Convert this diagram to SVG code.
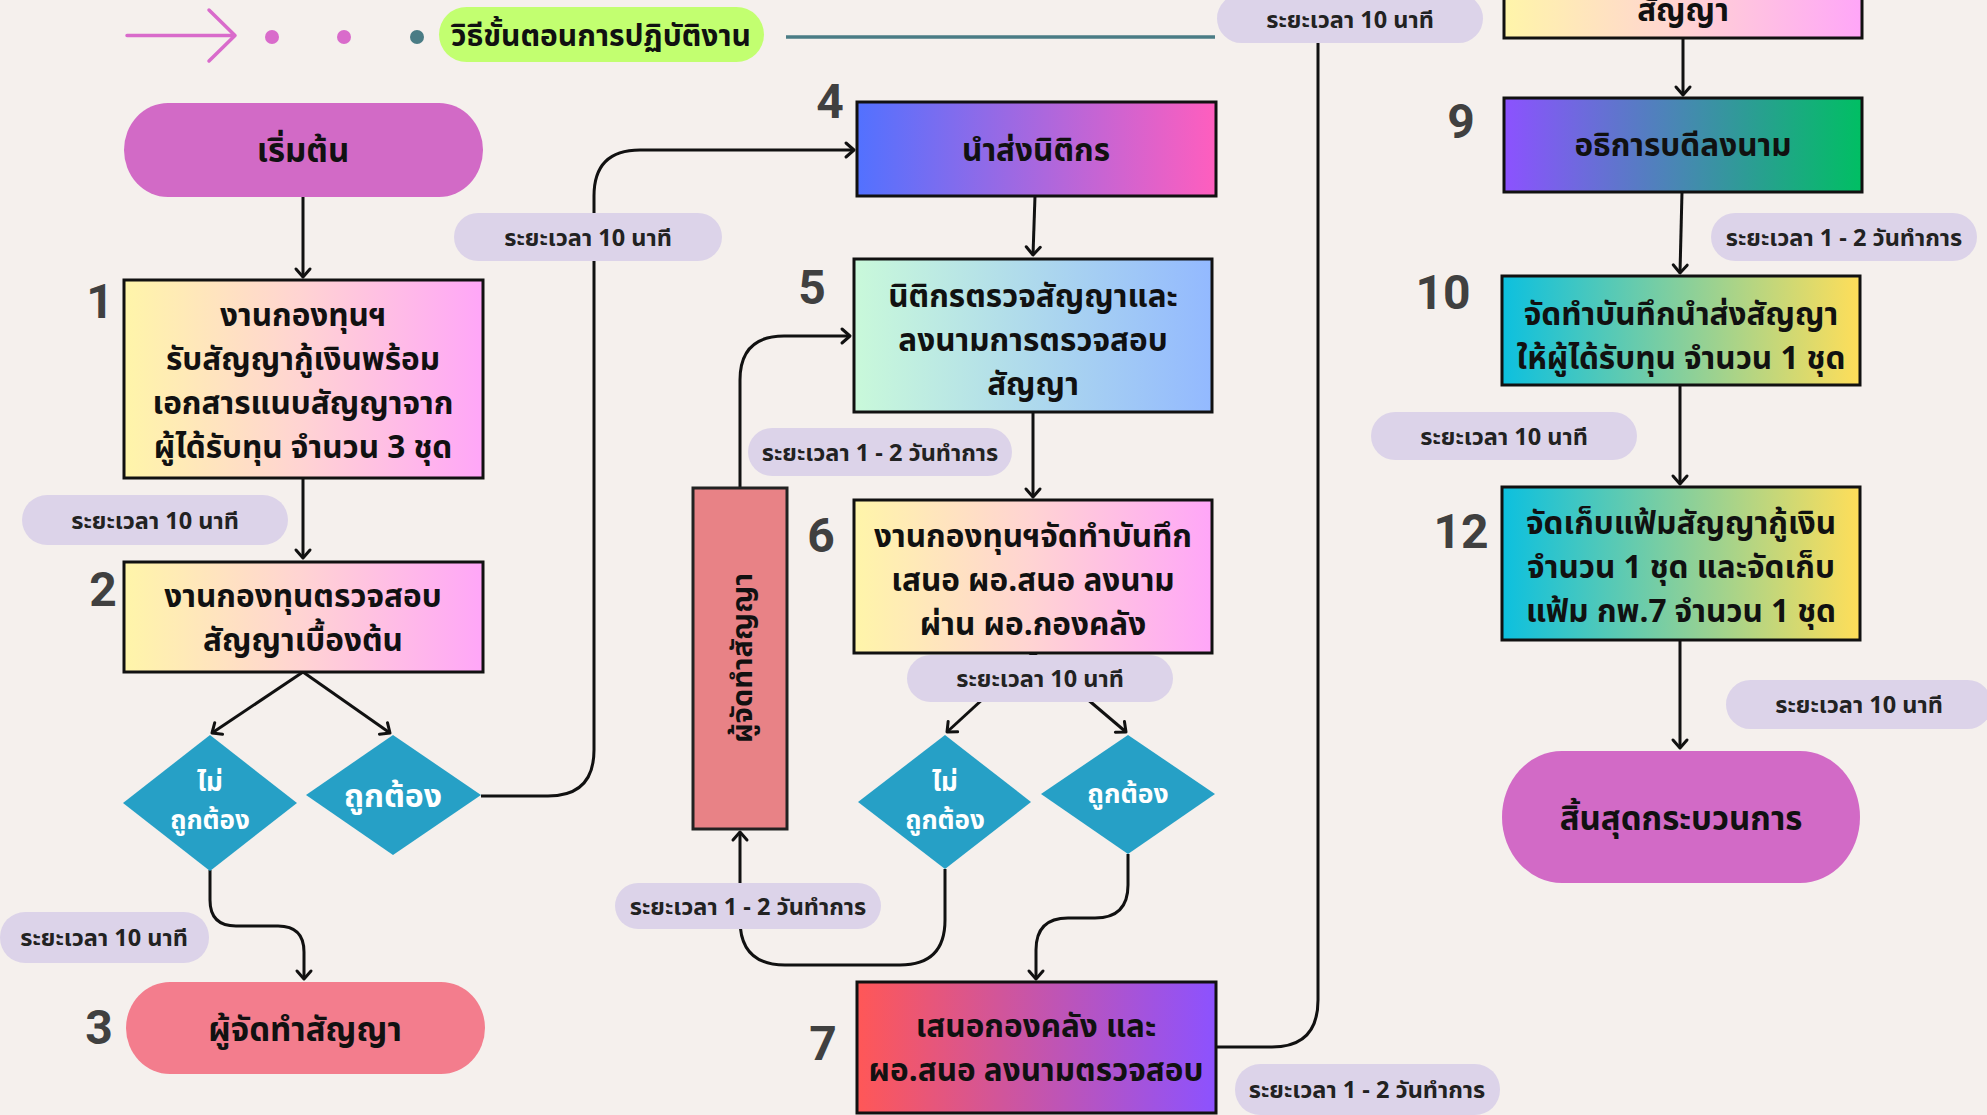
<svg xmlns="http://www.w3.org/2000/svg" width="1987" height="1115" viewBox="0 0 1987 1115">
<defs>
<linearGradient id="gYP" x1="0" y1="0" x2="1" y2="0"><stop offset="0" stop-color="#FFF5A9"/><stop offset="0.5" stop-color="#FFD3D3"/><stop offset="1" stop-color="#FFA6F8"/></linearGradient>
<linearGradient id="gBP" x1="0" y1="0" x2="1" y2="0"><stop offset="0" stop-color="#5271FF"/><stop offset="1" stop-color="#FF5EBE"/></linearGradient>
<linearGradient id="gMB" x1="0" y1="0" x2="1" y2="0"><stop offset="0" stop-color="#C9F9DA"/><stop offset="1" stop-color="#93B9FF"/></linearGradient>
<linearGradient id="gRP" x1="0" y1="0" x2="1" y2="0"><stop offset="0" stop-color="#FF5757"/><stop offset="1" stop-color="#8C52FF"/></linearGradient>
<linearGradient id="gPG" x1="0" y1="0" x2="1" y2="0"><stop offset="0" stop-color="#8C52FF"/><stop offset="1" stop-color="#00BF63"/></linearGradient>
<linearGradient id="gCY" x1="0" y1="0" x2="1" y2="0"><stop offset="0" stop-color="#0CC0DF"/><stop offset="1" stop-color="#FFDE59"/></linearGradient>
<marker id="arr" markerUnits="userSpaceOnUse" markerWidth="20" markerHeight="20" refX="12" refY="10" orient="auto" viewBox="0 0 20 20">
<path d="M4,3 L12,10 L4,17" fill="none" stroke="#111" stroke-width="3" stroke-linecap="round" stroke-linejoin="round"/>
</marker>
<style>
.bx{stroke:#111;stroke-width:3}
.t{font-family:"Noto Sans Thai","Noto Sans","DejaVu Sans",sans-serif;font-weight:700;fill:#111;text-anchor:middle}
.tw{font-family:"Noto Sans Thai","Noto Sans","DejaVu Sans",sans-serif;font-weight:700;fill:#fff;text-anchor:middle}
.lbl{font-family:"Noto Sans Thai","Noto Sans","DejaVu Sans",sans-serif;font-weight:700;fill:#222;text-anchor:middle;font-size:23.5px}
.pill{fill:#DCD3E9}
.num{font-family:Roboto,"Liberation Sans",sans-serif;font-weight:700;fill:#404040;text-anchor:middle;font-size:48px}
.dm{fill:#26A0C6}
.c{fill:none;stroke:#111;stroke-width:3}
.b{font-size:31.5px}
</style>
</defs>
<rect width="1987" height="1115" fill="#F5F0ED"/>

<g id="header">
<path d="M127,35.5 H235 M209,10 L235,35.5 L209,61" fill="none" stroke="#D96BCB" stroke-width="3.5" stroke-linecap="round" stroke-linejoin="round"/>
<circle cx="272" cy="37" r="7" fill="#D96BCB"/>
<circle cx="344" cy="37" r="7" fill="#D96BCB"/>
<circle cx="417" cy="37" r="7" fill="#4A7C85"/>
<rect x="439" y="7" width="325" height="55" rx="27.5" fill="#C2FF70"/>
<text class="t" x="601" y="46" font-size="30">วิธีขั้นตอนการปฏิบัติงาน</text>
<path d="M786,37 H1215" stroke="#4A7C85" stroke-width="3.5"/>
</g>

<g id="connectors">
<path class="c" d="M303,197 V277" marker-end="url(#arr)"/>
<path class="c" d="M303,478 V558" marker-end="url(#arr)"/>
<path class="c" d="M303,672 L212,733" marker-end="url(#arr)"/>
<path class="c" d="M303,672 L390,733" marker-end="url(#arr)"/>
<path class="c" d="M481,796 H548 Q594,796 594,750 V196 Q594,150 640,150 H854" marker-end="url(#arr)"/>
<path class="c" d="M210,870 V900 Q210,926 236,926 H278 Q304,926 304,952 V979" marker-end="url(#arr)"/>
<path class="c" d="M1035,196 L1033,255" marker-end="url(#arr)"/>
<path class="c" d="M1033,412 V497" marker-end="url(#arr)"/>
<path class="c" d="M1033,653 L947,732" marker-end="url(#arr)"/>
<path class="c" d="M1033,653 L1126,732" marker-end="url(#arr)"/>
<path class="c" d="M945,869 V920 Q945,965 900,965 H785 Q740,965 740,920 V832" marker-end="url(#arr)"/>
<path class="c" d="M740,488 V380 Q740,336 784,336 H850" marker-end="url(#arr)"/>
<path class="c" d="M1128,854 V885 Q1128,918 1095,918 H1068 Q1036,918 1036,950 V979" marker-end="url(#arr)"/>
<path class="c" d="M1216,1047 H1272 Q1318,1047 1318,1000 V30"/>
<path class="c" d="M1683,38 V95" marker-end="url(#arr)"/>
<path class="c" d="M1682,192 L1680,273" marker-end="url(#arr)"/>
<path class="c" d="M1680,385 V484" marker-end="url(#arr)"/>
<path class="c" d="M1680,640 V748" marker-end="url(#arr)"/>
</g>

<g id="start">
<rect x="124" y="103" width="359" height="94" rx="44" ry="47" fill="#D26AC6"/>
<text class="t" x="303" y="162" font-size="33">เริ่มต้น</text>
</g>

<g id="step1">
<rect class="bx" x="124" y="280" width="359" height="198" fill="url(#gYP)"/>
<text class="t b" x="303" y="326">งานกองทุนฯ</text>
<text class="t b" x="303" y="370">รับสัญญากู้เงินพร้อม</text>
<text class="t b" x="303" y="414">เอกสารแนบสัญญาจาก</text>
<text class="t b" x="303" y="458">ผู้ได้รับทุน จำนวน 3 ชุด</text>
<text class="num" x="100" y="318">1</text>
</g>

<g id="step2">
<rect class="bx" x="124" y="562" width="359" height="110" fill="url(#gYP)"/>
<text class="t b" x="303" y="607">งานกองทุนตรวจสอบ</text>
<text class="t b" x="303" y="651">สัญญาเบื้องต้น</text>
<text class="num" x="103" y="606">2</text>
</g>

<g id="dec1no">
<polygon class="dm" points="210,735 297,803 210,871 123,803"/>
<text class="tw" font-size="26" x="210" y="791">ไม่</text>
<text class="tw" font-size="26" x="210" y="829">ถูกต้อง</text>
</g>

<g id="dec1yes">
<polygon class="dm" points="393,735 481,795 393,855 306,795"/>
<text class="tw" font-size="32" x="393" y="807">ถูกต้อง</text>
</g>

<g id="step3">
<rect x="126" y="982" width="359" height="92" rx="44" ry="46" fill="#F37D8D"/>
<text class="t" font-size="33" x="305" y="1041">ผู้จัดทำสัญญา</text>
<text class="num" x="99" y="1044">3</text>
</g>

<g id="step4">
<rect class="bx" x="857" y="102" width="359" height="94" fill="url(#gBP)"/>
<text class="t b" x="1036" y="161">นำส่งนิติกร</text>
<text class="num" x="830" y="118">4</text>
</g>

<g id="step5">
<rect class="bx" x="854" y="259" width="358" height="153" fill="url(#gMB)"/>
<text class="t b" x="1033" y="307">นิติกรตรวจสัญญาและ</text>
<text class="t b" x="1033" y="351">ลงนามการตรวจสอบ</text>
<text class="t b" x="1033" y="395">สัญญา</text>
<text class="num" x="812" y="304">5</text>
</g>

<g id="maker">
<rect x="693" y="488" width="94" height="341" fill="#E88286" stroke="#222" stroke-width="3"/>
<text class="t" font-size="29" x="742" y="668" transform="rotate(-90 742 658)">ผู้จัดทำสัญญา</text>
</g>

<g id="step6">
<rect class="bx" x="854" y="500" width="358" height="153" fill="url(#gYP)"/>
<text class="t b" x="1033" y="547">งานกองทุนฯจัดทำบันทึก</text>
<text class="t b" x="1033" y="591">เสนอ ผอ.สนอ ลงนาม</text>
<text class="t b" x="1033" y="635">ผ่าน ผอ.กองคลัง</text>
<text class="num" x="821" y="552">6</text>
</g>

<g id="dec2no">
<polygon class="dm" points="945,735 1031,802 945,869 858,802"/>
<text class="tw" font-size="26" x="945" y="791">ไม่</text>
<text class="tw" font-size="26" x="945" y="829">ถูกต้อง</text>
</g>

<g id="dec2yes">
<polygon class="dm" points="1128,735 1215,794 1128,854 1041,794"/>
<text class="tw" font-size="26.5" x="1128" y="803">ถูกต้อง</text>
</g>

<g id="step7">
<rect class="bx" x="857" y="982" width="359" height="131" fill="url(#gRP)"/>
<text class="t b" x="1036" y="1037">เสนอกองคลัง และ</text>
<text class="t b" x="1036" y="1081">ผอ.สนอ ลงนามตรวจสอบ</text>
<text class="num" x="823" y="1060">7</text>
</g>

<g id="step8">
<rect class="bx" x="1504" y="-100" width="358" height="138" fill="url(#gYP)"/>
<text class="t b" x="1683" y="21">สัญญา</text>
</g>

<g id="step9">
<rect class="bx" x="1504" y="98" width="358" height="94" fill="url(#gPG)"/>
<text class="t b" x="1683" y="156">อธิการบดีลงนาม</text>
<text class="num" x="1461" y="138">9</text>
</g>

<g id="step10">
<rect class="bx" x="1502" y="276" width="358" height="109" fill="url(#gCY)"/>
<text class="t b" x="1681" y="325">จัดทำบันทึกนำส่งสัญญา</text>
<text class="t b" x="1681" y="369">ให้ผู้ได้รับทุน จำนวน 1 ชุด</text>
<text class="num" x="1443" y="309">10</text>
</g>

<g id="step12">
<rect class="bx" x="1502" y="487" width="358" height="153" fill="url(#gCY)"/>
<text class="t b" x="1681" y="534">จัดเก็บแฟ้มสัญญากู้เงิน</text>
<text class="t b" x="1681" y="578">จำนวน 1 ชุด และจัดเก็บ</text>
<text class="t b" x="1681" y="622">แฟ้ม กพ.7 จำนวน 1 ชุด</text>
<text class="num" x="1461" y="548">12</text>
</g>

<g id="end">
<rect x="1502" y="751" width="358" height="132" rx="60" ry="66" fill="#D26AC6"/>
<text class="t" font-size="33" x="1681" y="830">สิ้นสุดกระบวนการ</text>
</g>

<g id="labels">
<rect class="pill" x="454" y="213" width="268" height="48" rx="24"/><text class="lbl" x="588" y="246">ระยะเวลา 10 นาที</text>
<rect class="pill" x="22" y="495" width="266" height="50" rx="25"/><text class="lbl" x="155" y="529">ระยะเวลา 10 นาที</text>
<rect class="pill" x="0" y="912" width="209" height="51" rx="25"/><text class="lbl" x="104" y="946">ระยะเวลา 10 นาที</text>
<rect class="pill" x="748" y="428" width="264" height="48" rx="24"/><text class="lbl" x="880" y="461">ระยะเวลา 1 - 2 วันทำการ</text>
<rect class="pill" x="907" y="655" width="266" height="47" rx="23.5"/><text class="lbl" x="1040" y="687">ระยะเวลา 10 นาที</text>
<rect class="pill" x="615" y="883" width="266" height="46" rx="23"/><text class="lbl" x="748" y="915">ระยะเวลา 1 - 2 วันทำการ</text>
<rect class="pill" x="1235" y="1064" width="265" height="51" rx="25"/><text class="lbl" x="1367" y="1098">ระยะเวลา 1 - 2 วันทำการ</text>
<rect class="pill" x="1217" y="-6" width="266" height="49" rx="24.5"/><text class="lbl" x="1350" y="28">ระยะเวลา 10 นาที</text>
<rect class="pill" x="1711" y="213" width="266" height="48" rx="24"/><text class="lbl" x="1844" y="246">ระยะเวลา 1 - 2 วันทำการ</text>
<rect class="pill" x="1371" y="412" width="266" height="48" rx="24"/><text class="lbl" x="1504" y="445">ระยะเวลา 10 นาที</text>
<rect class="pill" x="1726" y="680" width="266" height="49" rx="24.5"/><text class="lbl" x="1859" y="713">ระยะเวลา 10 นาที</text>
</g>
</svg>
